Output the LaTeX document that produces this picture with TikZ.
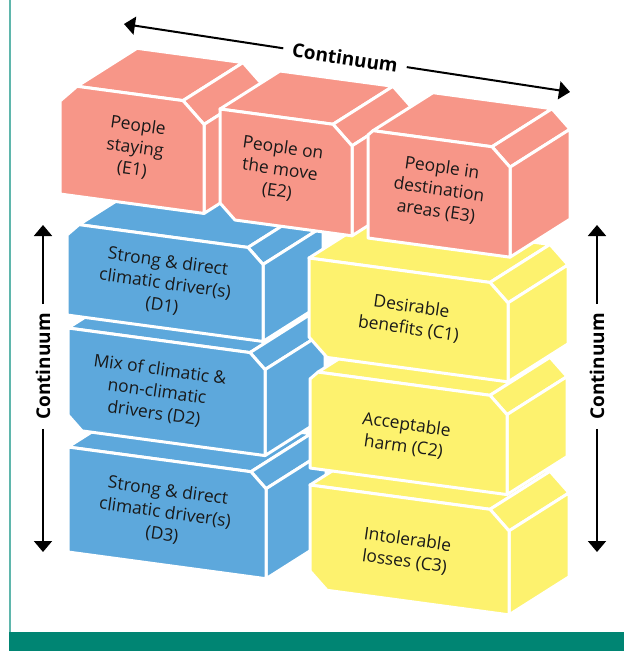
\documentclass[tikz,border=0pt]{standalone}
\usepackage{fontspec}
\setmainfont{Open Sans}
\usepackage{tikz}
\usetikzlibrary{arrows.meta}
\definecolor{salmon}{RGB}{247,150,136}
\definecolor{skyblue}{RGB}{93,168,220}
\definecolor{lemon}{RGB}{253,242,110}
\definecolor{deepteal}{RGB}{0,133,115}
\definecolor{lightteal}{RGB}{95,182,172}
\newcommand\bkslope{0.135}
\newcommand\bkdx{60}
\newcommand\bkdy{-38}
% #1,#2 corner  #3 width  #4 height  #5 cut top left  #6 cut top right  #7 cut bottom left  #8 colour
\newcommand\brick[8]{%
\filldraw[face, fill=#8] ({#1+#5},{#2+#5*\bkslope}) -- ({#1+#3-#6},{#2+(#3-#6)*\bkslope}) -- ++(\bkdx,\bkdy) -- ({#1+#5+\bkdx},{#2+#5*\bkslope+\bkdy}) -- cycle;
\filldraw[face, fill=#8] ({#1+#3-#6},{#2+(#3-#6)*\bkslope}) -- ({#1+#3},{#2+#3*\bkslope+#6}) -- ++(\bkdx,\bkdy) -- ({#1+#3-#6+\bkdx},{#2+(#3-#6)*\bkslope+\bkdy}) -- cycle;
\filldraw[face, fill=#8] ({#1+#3},{#2+#3*\bkslope+#6}) -- ({#1+#3},{#2+#3*\bkslope+#4}) -- ++(\bkdx,\bkdy) -- ({#1+#3+\bkdx},{#2+#3*\bkslope+#6+\bkdy}) -- cycle;
\filldraw[face, fill=#8] (#1,{#2+#5}) -- ({#1+#5},{#2+#5*\bkslope}) -- ({#1+#3-#6},{#2+(#3-#6)*\bkslope}) -- ({#1+#3},{#2+#3*\bkslope+#6}) -- ({#1+#3},{#2+#3*\bkslope+#4}) -- ({#1+#7},{#2+#7*\bkslope+#4}) -- (#1,{#2+#4-#7}) -- cycle;
}

\begin{document}
\begin{tikzpicture}[x=1pt, y=-1pt,
  face/.style={draw=white, line width=3pt, line join=round},
  lbl/.style={align=center, rotate=-8, text=black!90, font=\fontsize{17.4}{22}\selectfont},
  cont/.style={font=\bfseries\fontsize{19}{21}\selectfont, inner sep=0pt, inner xsep=9pt},
  arr/.style={line width=2pt, -{Triangle[width=18pt,length=11pt]}}]
\useasboundingbox (0,0) rectangle (624,651);
\draw[lightteal, line width=1.8pt] (10,0) -- (10,632);
\fill[deepteal] (9,632) rectangle (624,651);

\brick{68}{447}{198}{105}{0}{15}{0}{skyblue}
\brick{68}{328}{197}{101}{0}{15}{14}{skyblue}
\brick{67}{223}{196}{92}{12}{15}{0}{skyblue}
\brick{310}{485}{199}{103}{0}{19}{17}{lemon}
\brick{310}{371}{197}{97}{8}{17}{0}{lemon}
\brick{309}{258}{199}{97}{0}{18}{18}{lemon}
\brick{60}{84}{144}{110}{17}{21}{0}{salmon}
\brick{220}{109}{132}{109}{0}{19}{15}{salmon}
\brick{368}{130}{142}{108}{5}{18}{0}{salmon}

\node[lbl] (e1) at (135,148) {People\\staying\\(E1)};
\node[lbl] (e2) at (280,170) {People on\\the move\\(E2)};
\node[lbl] (e3) at (439,190) {People in\\destination\\areas (E3)};
\node[lbl] (d1) at (165,284) {Strong \& direct\\climatic driver(s)\\(D1)};
\node[lbl] (d2) at (157,392) {Mix of climatic \&\\non-climatic\\drivers (D2)};
\node[lbl] (d3) at (165,513) {Strong \& direct\\climatic driver(s)\\(D3)};
\node[lbl] (c1) at (410,318) {Desirable\\benefits (C1)};
\node[lbl] (c2) at (405,436) {Acceptable\\harm (C2)};
\node[lbl] (c3) at (406,551) {Intolerable\\losses (C3)};

\node[cont, rotate=-8.7] (ctop) at (345,57.7) {Continuum};
\node[cont, rotate=90] (cleft) at (43,366.5) {Continuum};
\node[cont, rotate=90] (cright) at (597,366.5) {Continuum};
\coordinate (topl) at (124,24);
\coordinate (topr) at (570,92);
\coordinate (leftu) at (43,225);
\coordinate (leftd) at (43,552);
\coordinate (rightu) at (597,225);
\coordinate (rightd) at (597,552);
\draw[arr] (ctop) -- (topl);
\draw[arr] (ctop) -- (topr);
\draw[arr] (cleft) -- (leftu);
\draw[arr] (cleft) -- (leftd);
\draw[arr] (cright) -- (rightu);
\draw[arr] (cright) -- (rightd);
\end{tikzpicture}
\end{document}
